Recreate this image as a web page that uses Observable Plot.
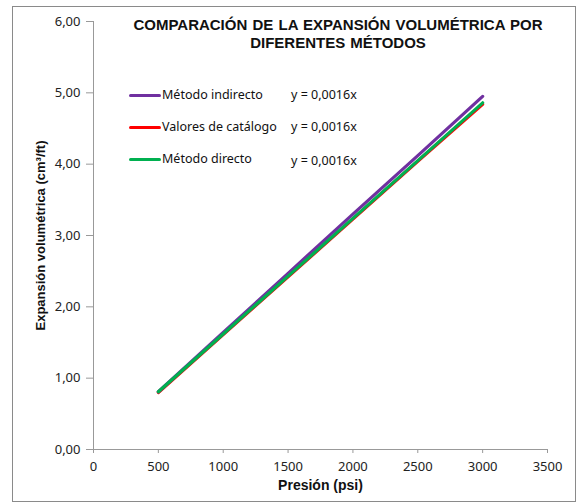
<!DOCTYPE html>
<html>
<head>
<meta charset="utf-8">
<script src="https://cdn.jsdelivr.net/npm/d3@7"></script>
<script src="https://cdn.jsdelivr.net/npm/@observablehq/plot@0.6"></script>
<style>
  body { margin: 0; background: #fff; }
  #wrap { position: relative; width: 578px; height: 504px; font-family: "Noto Sans", sans-serif; }
  #border { position: absolute; left: 12px; top: 6px; width: 562px; height: 494px; border: 1.5px solid #8a8a8a; pointer-events: none; }
  #title { position: absolute; left: 88px; width: 500px; top: 16px; text-align: center; font-family: "Liberation Sans", Arial, sans-serif; font-weight: bold; font-size: 15px; line-height: 18px; color: #111; word-spacing: 1px; }
  .leg { position: absolute; left: 129px; font-size: 12.5px; color: #111; height: 16px; line-height: 16px; }
  .leg .sw { display: inline-block; width: 32px; height: 3.5px; vertical-align: middle; margin-right: 1px; border-radius: 2px; }
  .eq { position: absolute; left: 291px; font-size: 12.5px; color: #111; line-height: 16px; }
</style>
</head>
<body>
<div id="wrap">
  <div id="chart"></div>
  <div id="border"></div>
  <div id="title"></div>
  <div id="legend"></div>
</div>
<script>
const titleLines = ["COMPARACIÓN DE LA EXPANSIÓN VOLUMÉTRICA POR", "DIFERENTES MÉTODOS"];
const xTitle = "Presión (psi)";
const yTitle = "Expansión volumétrica (cm³/ft)";

const pressure = [500, 1000, 1500, 2000, 2500, 3000];
const seriesNames = ["Método indirecto", "Valores de catálogo", "Método directo"];
const seriesColors = ["#7030A0", "#FF0000", "#00B050"];
const equations = ["y = 0,0016x", "y = 0,0016x", "y = 0,0016x"];
const indirecto = [0.81, 1.64, 2.47, 3.30, 4.12, 4.95];
const catalogo = [0.80, 1.61, 2.42, 3.23, 4.04, 4.84];
const directo = [0.81, 1.62, 2.43, 3.24, 4.05, 4.86];

const xTicks = [0, 500, 1000, 1500, 2000, 2500, 3000, 3500];
const yTicks = [0, 1, 2, 3, 4, 5, 6];

const valuesBySeries = [indirecto, catalogo, directo];
const data = [];
// draw order: catálogo, indirecto, directo
[1, 0, 2].forEach(si => {
  pressure.forEach((p, i) => data.push({series: seriesNames[si], x: p, y: valuesBySeries[si][i]}));
});

const fmt = d => d.toFixed(2).replace(".", ",");

const chart = Plot.plot({
  width: 578,
  height: 504,
  marginLeft: 93,
  marginRight: 31,
  marginTop: 21,
  marginBottom: 55,
  style: {fontFamily: "Noto Sans, sans-serif", fontSize: "13px", color: "#222", background: "transparent"},
  x: {domain: [0, 3500], ticks: xTicks},
  y: {domain: [0, 6], ticks: yTicks},
  color: {domain: seriesNames, range: seriesColors},
  marks: [
    Plot.axisX({ticks: xTicks, tickSize: 4, tickPadding: 8, stroke: "#999", label: null, tickFormat: d => String(d)}),
    Plot.axisY({ticks: yTicks, tickSize: 7, tickPadding: 6, stroke: "#999", label: null, tickFormat: fmt}),
    Plot.ruleX([0], {stroke: "#999"}),
    Plot.ruleY([0], {stroke: "#999"}),
    Plot.line(data, {x: "x", y: "y", z: "series", stroke: "series", strokeWidth: 3.2}),
    Plot.text([xTitle], {text: d => d, frameAnchor: "bottom", dy: 40, fontWeight: "bold", fontSize: 14, fontFamily: "Liberation Sans, Arial, sans-serif", fill: "#111"}),
    Plot.text([yTitle], {text: d => d, frameAnchor: "left", textAnchor: "middle", dx: -53, rotate: -90, fontWeight: "bold", fontSize: 13, fontFamily: "Liberation Sans, Arial, sans-serif", fill: "#111"})
  ]
});
document.getElementById("chart").appendChild(chart);

document.getElementById("title").innerHTML = titleLines.map(t => `<div>${t}</div>`).join("");

const legendTops = [87, 119, 151];
const legend = document.getElementById("legend");
seriesNames.forEach((name, i) => {
  const row = document.createElement("div");
  row.className = "leg";
  row.style.top = legendTops[i] + "px";
  row.innerHTML = `<span class="sw" style="background:${seriesColors[i]}"></span>${name}`;
  legend.appendChild(row);
  const eq = document.createElement("div");
  eq.className = "eq";
  eq.style.top = (legendTops[i] + (i === 2 ? 2 : 0)) + "px";
  eq.textContent = equations[i];
  legend.appendChild(eq);
});
</script>
</body>
</html>
